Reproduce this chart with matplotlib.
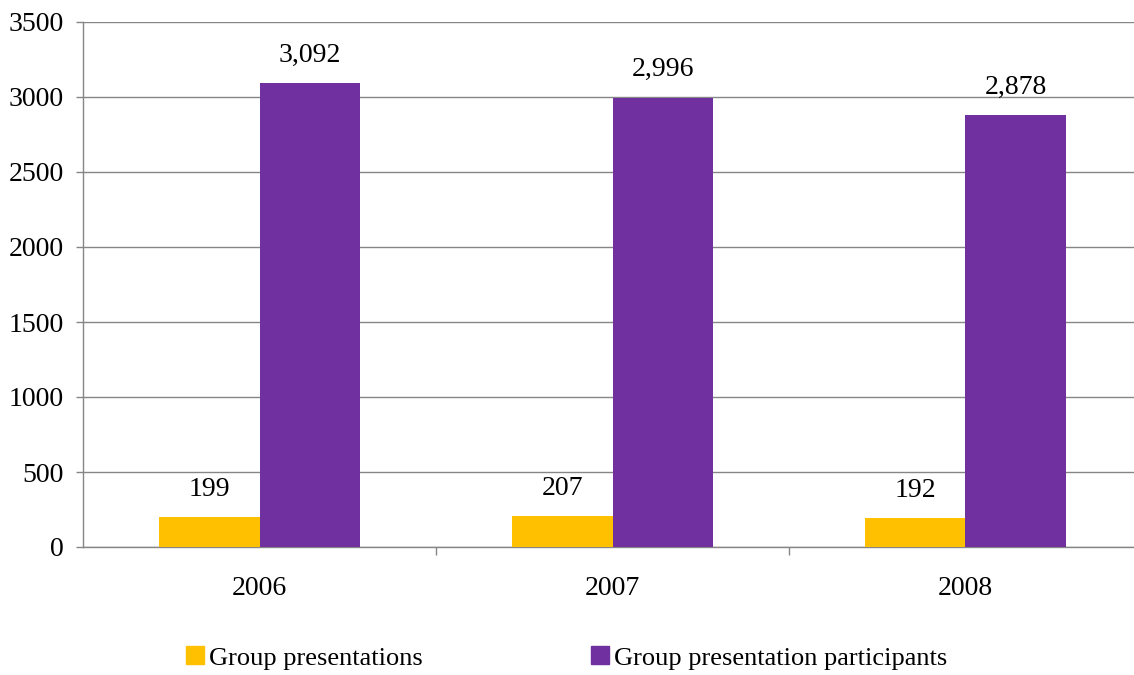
import matplotlib.pyplot as plt
import numpy as np
from matplotlib.patches import Patch

years = ["2006", "2007", "2008"]
presentations = [199, 207, 192]
participants = [3092, 2996, 2878]
series_names = ["Group presentations", "Group presentation participants"]

plt.rcParams["font.family"] = ["Liberation Serif", "DejaVu Serif"]

fig = plt.figure(figsize=(11.34, 6.75), dpi=100)
ax = fig.add_axes([83 / 1134, 128 / 675, 1059 / 1134, 525 / 675])

x = np.arange(len(years))
w = 0.286
yellow = "#FFC000"
purple = "#7030A0"
grey = "#868686"

b1 = ax.bar(x - w / 2, presentations, w, color=yellow, zorder=3)
b2 = ax.bar(x + w / 2, participants, w, color=purple, zorder=3)

for bars, vals in [(b1, presentations), (b2, participants)]:
    for bar, v in zip(bars, vals):
        ax.annotate(f"{v:,}", (bar.get_x() + bar.get_width() / 2, v),
                    xytext=(0, 20), textcoords="offset points",
                    ha="center", va="center", fontsize=20)

ax.set_xlim(-0.5, 2.5)
ax.set_ylim(0, 3500)
ax.set_yticks(range(0, 3501, 500))
ax.yaxis.grid(True, color=grey, linewidth=1, zorder=0)

ax.set_xticks(x)
ax.set_xticklabels(years)
ax.set_xticks([0.5, 1.5, 2.5], minor=True)
ax.tick_params(axis="x", which="major", length=0, pad=21, labelsize=20)
ax.tick_params(axis="x", which="minor", length=6, color=grey, width=1)
ax.tick_params(axis="y", length=5, color=grey, width=1, pad=9, labelsize=20)

for s in ["top", "right"]:
    ax.spines[s].set_visible(False)
for s in ["left", "bottom"]:
    ax.spines[s].set_color(grey)
    ax.spines[s].set_linewidth(1)

handles = [Patch(color=yellow), Patch(color=purple)]
fig.legend(handles, series_names, loc="center", bbox_to_anchor=(0.4996, 17 / 675),
           ncol=2, frameon=False, fontsize=19, handlelength=0.68, handleheight=0.68,
           handletextpad=0.19, columnspacing=6.4)

fig.savefig("out.png", dpi=100)
